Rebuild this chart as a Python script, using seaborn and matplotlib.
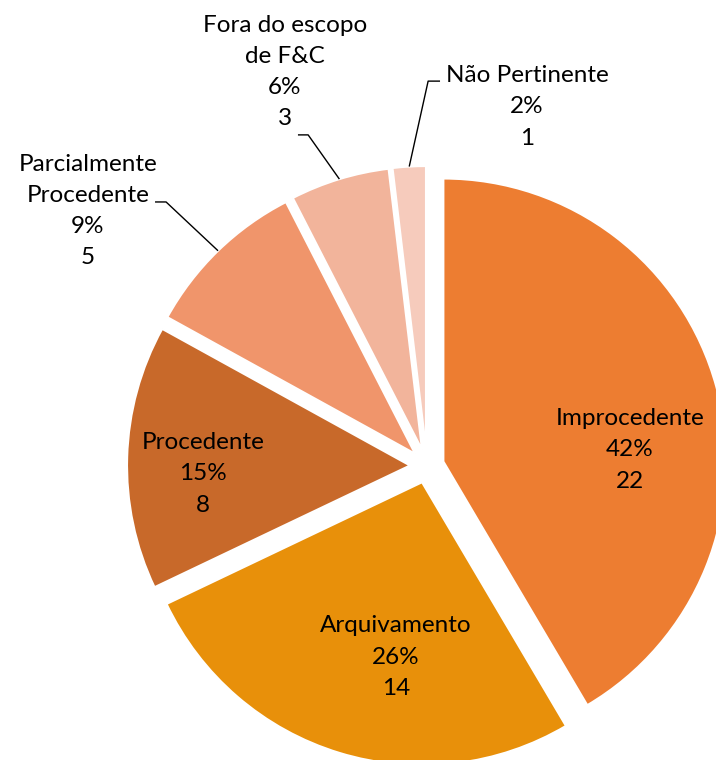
import numpy as np
import matplotlib
matplotlib.use('Agg')
import matplotlib.pyplot as plt
import seaborn as sns

categories = ['Improcedente', 'Arquivamento', 'Procedente',
              'Parcialmente\nProcedente', 'Fora do escopo\nde F&C', 'Não Pertinente']
counts = [22, 14, 8, 5, 3, 1]
colors = ['#ED7D31', '#E8900A', '#C8692A', '#F0956B', '#F2B49B', '#F6CBBC']

sns.set_theme(style='white')
plt.rcParams['font.family'] = ['Lato', 'DejaVu Sans']

fig = plt.figure(figsize=(7.16, 7.6), dpi=100)
ax = fig.add_axes([0, 0, 1, 1])

wedges, _ = ax.pie(counts, colors=colors, startangle=90, counterclock=False,
                   explode=[0.06] * len(counts), radius=1.0,
                   wedgeprops=dict(edgecolor='white', linewidth=1.5))

total = sum(counts)
# label centres (data units)
label_pos = [(0.717, 0.057), (-0.110, -0.675), (-0.792, -0.028),
             (-1.198, 0.901), (-0.502, 1.392), (0.353, 1.269)]
# start of the leader line next to the label, None = label sits inside the slice
leader_start = [None, None, None, (-0.961, 0.933), (-0.456, 1.170), (0.046, 1.360)]
elbow_len = [0, 0, 0, 0.039, 0.036, -0.042]

for w, cat, n, pos, start, el in zip(wedges, categories, counts, label_pos, leader_start, elbow_len):
    pct = round(100 * n / total)
    ax.text(pos[0], pos[1], f'{cat}\n{pct}%\n{n}', ha='center', va='center',
            multialignment='center', fontsize=17.5, color='#000000', linespacing=1.6)
    if start is not None:
        mid = np.deg2rad((w.theta1 + w.theta2) / 2)
        end = (w.center[0] + w.r * np.cos(mid), w.center[1] + w.r * np.sin(mid))
        elbow = (start[0] + el, start[1])
        ax.plot([start[0], elbow[0], end[0]], [start[1], elbow[1], end[1]],
                color='black', linewidth=1.0, solid_capstyle='butt')

ax.set_xlim(-427 / 283, (716 - 427) / 283)
ax.set_ylim(-(760 - 466) / 283, 466 / 283)
ax.set_axis_off()

fig.savefig('out.png', dpi=100, facecolor='white')
